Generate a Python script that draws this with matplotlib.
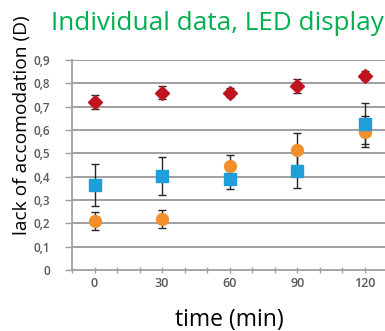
import matplotlib
matplotlib.use("Agg")
import matplotlib.pyplot as plt
from matplotlib.ticker import FixedLocator

time = [0, 30, 60, 90, 120]
red_vals = [0.72, 0.76, 0.76, 0.79, 0.833]
red_err = [0.03, 0.028, 0.018, 0.03, 0.02]
blue_vals = [0.364, 0.403, 0.389, 0.426, 0.626]
blue_err = [0.09, 0.08, 0.04, 0.075, 0.088]
orange_vals = [0.21, 0.219, 0.446, 0.514, 0.593]
orange_err = [0.04, 0.04, 0.047, 0.075, 0.065]
yticks = [0, 0.1, 0.2, 0.3, 0.4, 0.5, 0.6, 0.7, 0.8, 0.9]
ytick_labels = ["0", "0,1", "0,2", "0,3", "0,4", "0,5", "0,6", "0,7", "0,8", "0,9"]
xticks = [0, 30, 60, 90, 120]

fig = plt.figure(figsize=(3.85, 3.31), dpi=100)
ax = fig.add_axes([72/385, 1-270/331, 1-72/385, 210/331])

ax.set_xlim(-10, 129)
ax.set_ylim(0, 0.9)

grid_c = "#a0a0a0"
for y in yticks[1:]:
    ax.axhline(y, color=grid_c, lw=1.4, zorder=1)

for s in ["top", "right"]:
    ax.spines[s].set_visible(False)
ax.spines["left"].set_color(grid_c)
ax.spines["bottom"].set_color(grid_c)
ax.spines["left"].set_linewidth(1.3)
ax.spines["bottom"].set_linewidth(1.3)

ekw = dict(ecolor="#262626", elinewidth=1.0, capsize=3, capthick=1.0, linestyle="none", zorder=3)
ax.errorbar(time, orange_vals, yerr=orange_err, marker="o", ms=8.5, mfc="#f28e2b",
            mec="#f28e2b", **ekw)
ax.errorbar(time, blue_vals, yerr=blue_err, marker="s", ms=8, mfc="#1f9ed8",
            mec="#1f9ed8", **ekw)
ax.errorbar(time, red_vals, yerr=red_err, marker="D", ms=7, mfc="#c0141e",
            mec="#c0141e", **ekw)

ax.set_yticks(yticks)
ax.set_yticklabels(ytick_labels)
ax.set_xticks(xticks)
ax.xaxis.set_minor_locator(FixedLocator([v for v in range(-10, 130, 10)]))
ax.tick_params(axis="y", colors="#595959", labelsize=8.5, length=5, width=1.0, pad=11)
ax.tick_params(axis="y", color=grid_c)
ax.tick_params(axis="x", which="major", colors="#595959", labelsize=9, length=4,
               width=1.0, direction="inout", pad=3)
ax.tick_params(axis="x", which="major", color=grid_c)
ax.tick_params(axis="x", which="minor", length=4, width=1.0, direction="inout", color=grid_c)
for lab in ax.get_xticklabels() + ax.get_yticklabels():
    lab.set_family("Open Sans")
    lab.set_fontweight("semibold")

fig.text(0.565, 0.93, "Individual data, LED display", color="#00b050", fontsize=18.8,
         family="Open Sans", ha="center", va="center")
fig.text(0.058, 0.622, "lack of accomodation (D)", color="black", fontsize=13.8,
         family="Open Sans", rotation=90, ha="center", va="center")
fig.text(0.595, 0.032, "time (min)", color="black", fontsize=16.5,
         family="Open Sans", ha="center", va="center")

fig.savefig("out.png", dpi=100)
